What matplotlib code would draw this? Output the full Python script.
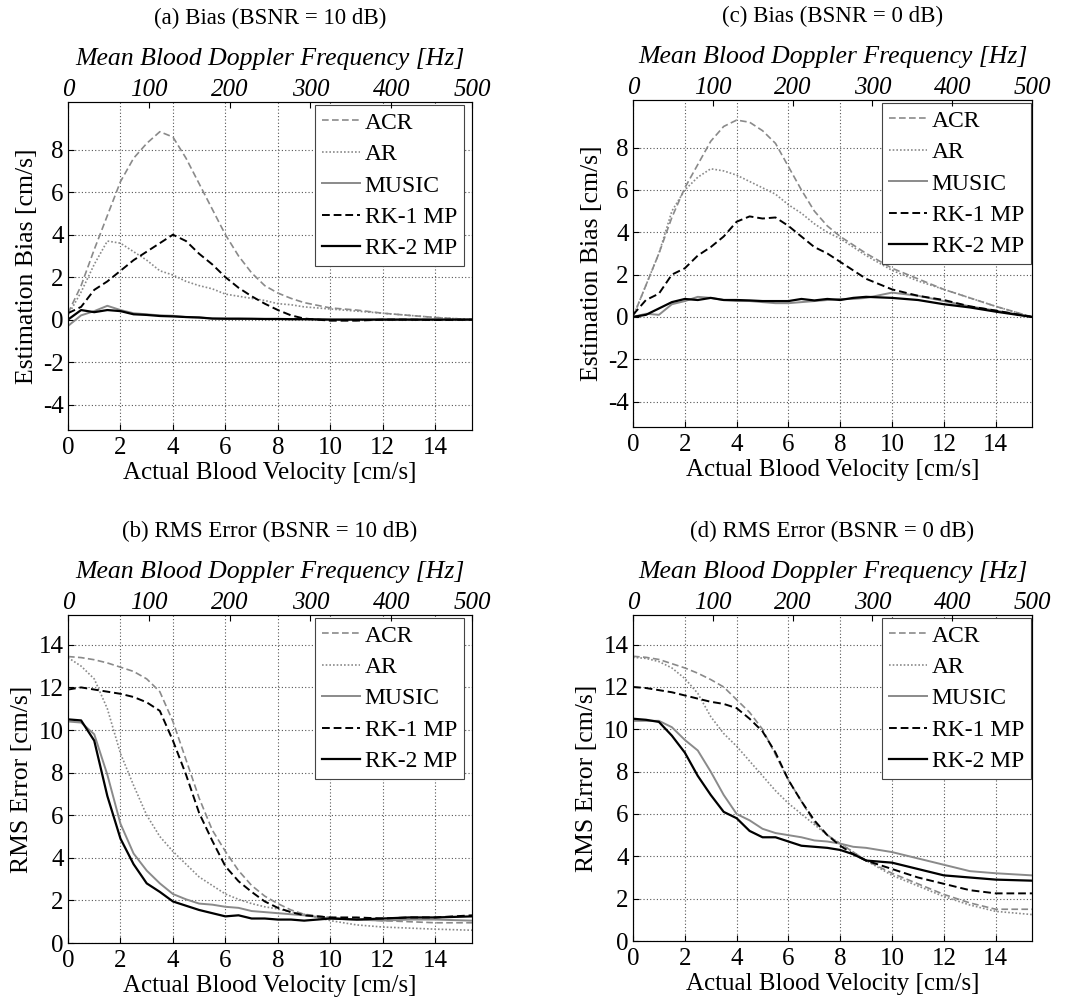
import numpy as np
import matplotlib
matplotlib.use("Agg")
import matplotlib.pyplot as plt

plt.rcParams['font.family'] = ['Liberation Serif', 'DejaVu Serif']
plt.rcParams['axes.unicode_minus'] = False

# velocity grid [cm/s]
vel = [0, 0.5, 1, 1.5, 2, 2.5, 3, 3.5, 4, 4.5, 5, 5.5, 6, 6.5, 7, 7.5, 8, 8.5, 9,
       10, 11, 12, 13, 14, 15.4]

methods = ['ACR', 'AR', 'MUSIC', 'RK-1 MP', 'RK-2 MP']

# (a) bias, BSNR = 10 dB
bias10_acr = [0.3, 1.6, 3.3, 4.9, 6.5, 7.6, 8.3, 8.85, 8.6, 7.6, 6.4, 5.2, 4.0, 3.0, 2.2, 1.6, 1.25, 1.0, 0.8, 0.55, 0.45, 0.3, 0.2, 0.1, 0.0]
bias10_ar = [0.2, 1.3, 2.6, 3.7, 3.6, 3.2, 2.8, 2.3, 2.1, 1.8, 1.6, 1.45, 1.2, 1.1, 1.0, 0.9, 0.75, 0.7, 0.6, 0.5, 0.4, 0.3, 0.2, 0.1, 0.0]
bias10_music = [-0.3, 0.2, 0.4, 0.65, 0.45, 0.3, 0.25, 0.2, 0.18, 0.12, 0.1, 0.05, 0.05, 0.05, 0.03, 0.03, 0.03, 0.02, 0.02, 0.0, 0.0, 0.0, 0.0, 0.0, 0.0]
bias10_rk1 = [0.3, 0.6, 1.4, 1.8, 2.3, 2.8, 3.2, 3.6, 4.0, 3.7, 3.1, 2.6, 2.0, 1.5, 1.1, 0.75, 0.45, 0.2, 0.05, -0.05, -0.05, 0.0, 0.0, -0.02, 0.0]
bias10_rk2 = [0.0, 0.45, 0.35, 0.45, 0.4, 0.25, 0.22, 0.17, 0.15, 0.12, 0.1, 0.05, 0.04, 0.04, 0.04, 0.03, 0.03, 0.02, 0.02, 0.0, 0.0, 0.0, 0.0, 0.0, 0.0]

# (c) bias, BSNR = 0 dB
bias0_acr = [0.0, 1.5, 3.0, 4.7, 6.1, 7.2, 8.3, 9.0, 9.3, 9.2, 8.8, 8.2, 7.1, 6.0, 5.0, 4.3, 3.8, 3.4, 3.0, 2.3, 1.8, 1.3, 0.9, 0.5, 0.0]
bias0_ar = [0.0, 1.5, 3.0, 5.0, 6.0, 6.6, 7.0, 6.9, 6.7, 6.4, 6.1, 5.8, 5.3, 4.9, 4.4, 4.0, 3.7, 3.3, 2.9, 2.2, 1.7, 1.3, 0.9, 0.5, 0.0]
bias0_music = [0.0, 0.15, 0.1, 0.6, 0.75, 0.95, 0.9, 0.8, 0.75, 0.75, 0.7, 0.65, 0.65, 0.7, 0.75, 0.8, 0.85, 0.85, 0.9, 1.15, 1.0, 0.75, 0.5, 0.3, 0.0]
bias0_rk1 = [0.1, 0.8, 1.1, 2.0, 2.3, 2.9, 3.3, 3.8, 4.5, 4.75, 4.65, 4.7, 4.3, 3.8, 3.3, 3.0, 2.6, 2.2, 1.8, 1.3, 1.0, 0.8, 0.5, 0.3, 0.0]
bias0_rk2 = [0.0, 0.1, 0.4, 0.7, 0.85, 0.8, 0.9, 0.8, 0.8, 0.78, 0.75, 0.75, 0.75, 0.85, 0.78, 0.85, 0.8, 0.9, 0.95, 0.9, 0.8, 0.6, 0.45, 0.25, 0.0]

# (b) RMS error, BSNR = 10 dB
rms10_acr = [13.45, 13.4, 13.3, 13.15, 12.95, 12.75, 12.4, 11.8, 10.4, 8.6, 6.8, 5.3, 4.3, 3.4, 2.7, 2.2, 1.85, 1.55, 1.35, 1.2, 1.1, 1.05, 1.0, 0.95, 0.95]
rms10_ar = [13.4, 13.0, 12.4, 11.0, 8.9, 7.4, 6.0, 5.0, 4.3, 3.7, 3.1, 2.7, 2.3, 2.05, 1.85, 1.7, 1.6, 1.45, 1.35, 1.05, 0.85, 0.75, 0.7, 0.65, 0.6]
rms10_music = [10.4, 10.35, 9.8, 7.9, 5.6, 4.2, 3.4, 2.8, 2.3, 2.05, 1.85, 1.8, 1.7, 1.65, 1.5, 1.45, 1.4, 1.35, 1.3, 1.15, 1.1, 1.05, 1.1, 1.1, 1.05]
rms10_rk1 = [11.9, 12.0, 11.9, 11.8, 11.7, 11.55, 11.3, 10.9, 9.5, 7.9, 6.1, 4.8, 3.6, 2.9, 2.4, 1.95, 1.65, 1.45, 1.3, 1.2, 1.2, 1.15, 1.2, 1.2, 1.3]
rms10_rk2 = [10.5, 10.45, 9.5, 6.9, 4.9, 3.7, 2.8, 2.4, 1.95, 1.75, 1.55, 1.4, 1.25, 1.3, 1.15, 1.15, 1.1, 1.1, 1.05, 1.15, 1.1, 1.15, 1.2, 1.2, 1.25]

# (d) RMS error, BSNR = 0 dB
rms0_acr = [13.45, 13.4, 13.3, 13.1, 12.9, 12.65, 12.35, 12.0, 11.4, 10.8, 10.0, 8.8, 7.6, 6.6, 5.6, 5.0, 4.6, 4.2, 3.8, 3.2, 2.7, 2.2, 1.8, 1.5, 1.5]
rms0_ar = [13.4, 13.35, 13.2, 12.9, 12.4, 11.7, 10.6, 9.8, 9.2, 8.5, 7.8, 7.1, 6.5, 6.0, 5.5, 5.0, 4.6, 4.2, 3.8, 3.1, 2.6, 2.1, 1.7, 1.4, 1.25]
rms0_music = [10.4, 10.4, 10.4, 10.1, 9.5, 9.0, 8.0, 6.9, 6.0, 5.7, 5.3, 5.1, 5.0, 4.9, 4.75, 4.7, 4.6, 4.45, 4.4, 4.2, 3.9, 3.6, 3.3, 3.2, 3.1]
rms0_rk1 = [12.0, 11.95, 11.85, 11.75, 11.6, 11.45, 11.3, 11.2, 11.0, 10.5, 9.9, 8.9, 7.6, 6.6, 5.7, 5.0, 4.5, 4.1, 3.8, 3.4, 3.0, 2.7, 2.4, 2.25, 2.25]
rms0_rk2 = [10.5, 10.45, 10.35, 9.7, 8.9, 7.8, 6.9, 6.1, 5.8, 5.2, 4.9, 4.9, 4.7, 4.5, 4.45, 4.4, 4.3, 4.1, 3.8, 3.7, 3.4, 3.1, 3.0, 2.9, 2.85]

gray = '#8a8a8a'
styles = [dict(color=gray, ls=(0, (4, 2)), lw=1.2),
          dict(color=gray, ls=(0, (1, 1.2)), lw=1.2),
          dict(color=gray, ls='-', lw=1.4),
          dict(color='black', ls=(0, (4, 2)), lw=1.4),
          dict(color='black', ls='-', lw=1.6)]

# title, ylabel, series, ylim, yticks, axes box in pixels, legend right inset px
panels = [
    ('(a) Bias (BSNR = 10 dB)', 'Estimation Bias [cm/s]',
     [bias10_acr, bias10_ar, bias10_music, bias10_rk1, bias10_rk2],
     (-5.2, 10.25), [-4, -2, 0, 2, 4, 6, 8], [68, 102, 472, 430], 8),
    ('(c) Bias (BSNR = 0 dB)', 'Estimation Bias [cm/s]',
     [bias0_acr, bias0_ar, bias0_music, bias0_rk1, bias0_rk2],
     (-5.2, 10.25), [-4, -2, 0, 2, 4, 6, 8], [633, 100, 1032, 427], 1),
    ('(b) RMS Error (BSNR = 10 dB)', 'RMS Error [cm/s]',
     [rms10_acr, rms10_ar, rms10_music, rms10_rk1, rms10_rk2],
     (0, 15.4), [0, 2, 4, 6, 8, 10, 12, 14], [68, 615, 472, 943], 8),
    ('(d) RMS Error (BSNR = 0 dB)', 'RMS Error [cm/s]',
     [rms0_acr, rms0_ar, rms0_music, rms0_rk1, rms0_rk2],
     (0, 15.4), [0, 2, 4, 6, 8, 10, 12, 14], [633, 615, 1032, 941], 1),
]

W, H = 1065, 1001
fig = plt.figure(figsize=(W / 100, H / 100), dpi=100)
vmax = 15.4
fs = 18

for title, ylab, series, ylim, yticks, (x0, y0, x1, y1), inset in panels:
    ax = fig.add_axes([x0 / W, 1 - y1 / H, (x1 - x0) / W, (y1 - y0) / H])
    for name, ys, st in zip(methods, series, styles):
        ax.plot(vel, ys, label=name, **st)
    ax.set_xlim(0, vmax)
    ax.set_ylim(*ylim)
    ax.set_xticks(range(0, 15, 2))
    ax.set_yticks(yticks)
    ax.grid(True, ls=(0, (1, 2)), color='#555555', lw=0.8)
    ax.tick_params(direction='in', length=4, labelsize=fs)
    ax.tick_params(axis='x', pad=5)
    ax.tick_params(axis='y', pad=3)
    for s in ax.spines.values():
        s.set_color('#555555')
    ax.set_xlabel('Actual Blood Velocity [cm/s]', fontsize=fs, labelpad=2)
    ax.set_ylabel(ylab, fontsize=fs + 0.5, labelpad=4)

    top = ax.twiny()
    top.set_xlim(0, 500)
    top.set_xticks([0, 100, 200, 300, 400, 500])
    top.tick_params(direction='in', length=4, labelsize=fs, pad=1)
    for lab in top.get_xticklabels():
        lab.set_fontstyle('italic')
    top.set_xlabel('Mean Blood Doppler Frequency [Hz]', fontsize=fs + 0.5,
                   fontstyle='italic', labelpad=10)
    top.set_title(title, fontsize=16.5, pad=17)

    w = x1 - x0
    h = y1 - y0
    leg = ax.legend(loc='upper right', bbox_to_anchor=(1 - inset / w, 1 - 3 / h),
                    fontsize=17, fancybox=False, edgecolor='#444444',
                    framealpha=1, borderaxespad=0, handlelength=1.6,
                    handletextpad=0.2, labelspacing=0.42, borderpad=0.3)
    leg.get_frame().set_linewidth(0.8)

fig.savefig('out.png', dpi=100)
